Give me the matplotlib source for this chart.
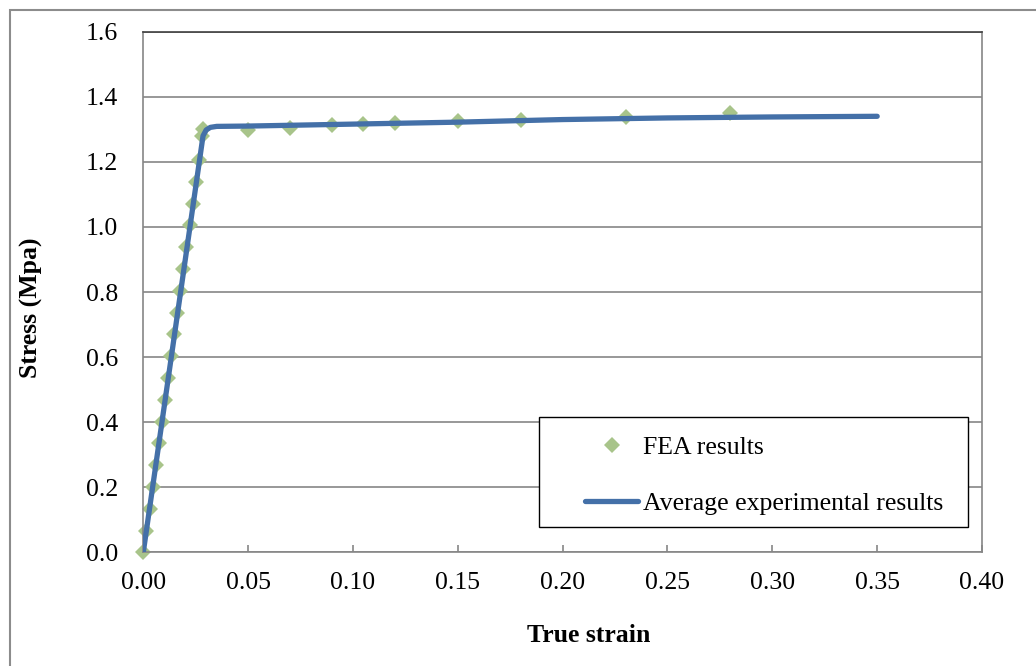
import matplotlib
matplotlib.use("Agg")
import matplotlib.pyplot as plt
from matplotlib.patches import Rectangle

# FEA results (diamonds)
fea_strain = [0.0, 0.0015, 0.0030, 0.0044, 0.0059, 0.0074, 0.0088, 0.0103, 0.0118,
              0.0133, 0.0147, 0.0162, 0.0177, 0.0191, 0.0206, 0.0221, 0.0236, 0.0250,
              0.0265, 0.0280, 0.0286,
              0.05, 0.07, 0.09, 0.105, 0.12, 0.15, 0.18, 0.23, 0.28]
fea_stress = [0.0, 0.067, 0.134, 0.200, 0.268, 0.335, 0.402, 0.469, 0.536,
              0.603, 0.670, 0.737, 0.804, 0.871, 0.938, 1.005, 1.072, 1.139,
              1.206, 1.278, 1.300,
              1.299, 1.305, 1.312, 1.315, 1.319, 1.325, 1.330, 1.339, 1.351]

# Average experimental results (line)
exp_strain = [0.0, 0.0285, 0.030, 0.032, 0.035, 0.05, 0.10, 0.15, 0.20, 0.25, 0.30, 0.35]
exp_stress = [0.0, 1.280, 1.298, 1.306, 1.309, 1.310, 1.316, 1.322, 1.330, 1.335, 1.338, 1.340]

x_ticks = [0.00, 0.05, 0.10, 0.15, 0.20, 0.25, 0.30, 0.35, 0.40]
y_ticks = [0.0, 0.2, 0.4, 0.6, 0.8, 1.0, 1.2, 1.4, 1.6]

plt.rcParams['font.family'] = ['Liberation Serif', 'DejaVu Serif']

fig = plt.figure(figsize=(10.36, 6.66), dpi=100)
ax = fig.add_axes([0.1383, 0.1707, 0.8096, 0.7817])

grid_col = '#868686'
ax.set_xlim(0, 0.40)
ax.set_ylim(0, 1.6)
ax.set_xticks(x_ticks)
ax.set_yticks(y_ticks)
ax.set_xticklabels([f'{v:.2f}' for v in x_ticks])
ax.set_yticklabels([f'{v:.1f}' for v in y_ticks])
ax.grid(axis='y', color=grid_col, linewidth=1.2)
ax.set_axisbelow(True)

ax.plot(fea_strain, fea_stress, linestyle='none', marker='D', markersize=8.5,
        color='#A8C48A', markeredgewidth=0, label='FEA results', zorder=2,
        clip_on=False)
ax.plot(exp_strain, exp_stress, color='#4470A8', linewidth=3.8,
        solid_capstyle='round', solid_joinstyle='round',
        label='Average experimental results', zorder=3)

for side in ['left', 'right', 'bottom']:
    ax.spines[side].set_color(grid_col)
    ax.spines[side].set_linewidth(1.2)
ax.spines['top'].set_color('#404040')
ax.spines['top'].set_linewidth(1.2)

ax.tick_params(axis='x', direction='in', length=5, width=1.2, color=grid_col,
               labelsize=18.5, pad=14)
ax.tick_params(axis='y', direction='in', length=0, labelsize=18.5, pad=18)

ax.set_xlabel('True strain', fontsize=18.5, fontweight='bold')
ax.xaxis.set_label_coords(0.531, -0.1717)
ax.xaxis.label.set_va('baseline')
ax.set_ylabel('Stress (Mpa)', fontsize=18.5, fontweight='bold')
ax.yaxis.set_label_coords(-0.1339, 0.470)
ax.yaxis.label.set_va('center')

# legend box drawn separately, entries placed inside it
ax.add_patch(Rectangle((0.472, 0.0486), 0.511, 0.2107, transform=ax.transAxes,
                       facecolor='white', edgecolor='black', linewidth=1.0,
                       zorder=4))
leg = ax.legend(loc='upper left', bbox_to_anchor=(0.5267, 0.2228),
                borderaxespad=0, borderpad=0, fontsize=18.5, frameon=False,
                handlelength=2.06, handletextpad=0.18, labelspacing=1.27)
leg.set_zorder(5)

# outer chart border
fig.patches.append(Rectangle((10 / 1036, -0.1), 1.2, 1 - 10 / 666 + 0.1,
                             transform=fig.transFigure, fill=False,
                             edgecolor='#8C8C8C', linewidth=1.5))

fig.savefig('out.png', dpi=100)
